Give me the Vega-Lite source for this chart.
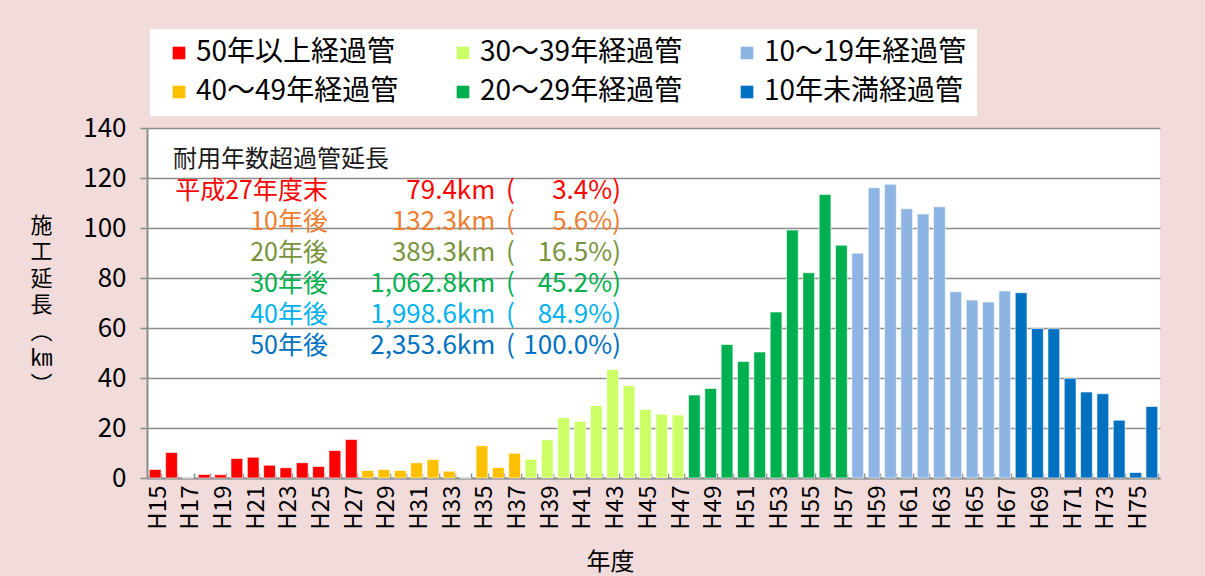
{
  "$schema": "https://vega.github.io/schema/vega-lite/v6.json",
  "autosize": {"type": "none"},
  "padding": {"left": 147, "top": 128, "right": 45, "bottom": 98},
  "width": 1013,
  "height": 350,
  "background": "#F2DCDB",
  "config": {"font": "Noto Sans CJK JP", "view": {"fill": "white", "stroke": null}},
  "datasets": {
    "pipes": [
      {"年度": "H15", "施工延長": 3.4, "経過年数": "50年以上経過管"},
      {"年度": "H16", "施工延長": 10.2, "経過年数": "50年以上経過管"},
      {"年度": "H17", "施工延長": 0.0, "経過年数": "50年以上経過管"},
      {"年度": "H18", "施工延長": 1.4, "経過年数": "50年以上経過管"},
      {"年度": "H19", "施工延長": 1.3, "経過年数": "50年以上経過管"},
      {"年度": "H20", "施工延長": 7.8, "経過年数": "50年以上経過管"},
      {"年度": "H21", "施工延長": 8.3, "経過年数": "50年以上経過管"},
      {"年度": "H22", "施工延長": 5.1, "経過年数": "50年以上経過管"},
      {"年度": "H23", "施工延長": 4.1, "経過年数": "50年以上経過管"},
      {"年度": "H24", "施工延長": 6.1, "経過年数": "50年以上経過管"},
      {"年度": "H25", "施工延長": 4.6, "経過年数": "50年以上経過管"},
      {"年度": "H26", "施工延長": 11.0, "経過年数": "50年以上経過管"},
      {"年度": "H27", "施工延長": 15.4, "経過年数": "50年以上経過管"},
      {"年度": "H28", "施工延長": 3.0, "経過年数": "40～49年経過管"},
      {"年度": "H29", "施工延長": 3.4, "経過年数": "40～49年経過管"},
      {"年度": "H30", "施工延長": 3.0, "経過年数": "40～49年経過管"},
      {"年度": "H31", "施工延長": 6.1, "経過年数": "40～49年経過管"},
      {"年度": "H32", "施工延長": 7.4, "経過年数": "40～49年経過管"},
      {"年度": "H33", "施工延長": 2.7, "経過年数": "40～49年経過管"},
      {"年度": "H34", "施工延長": 0.0, "経過年数": "40～49年経過管"},
      {"年度": "H35", "施工延長": 12.9, "経過年数": "40～49年経過管"},
      {"年度": "H36", "施工延長": 4.2, "経過年数": "40～49年経過管"},
      {"年度": "H37", "施工延長": 9.9, "経過年数": "40～49年経過管"},
      {"年度": "H38", "施工延長": 7.5, "経過年数": "30～39年経過管"},
      {"年度": "H39", "施工延長": 15.3, "経過年数": "30～39年経過管"},
      {"年度": "H40", "施工延長": 24.1, "経過年数": "30～39年経過管"},
      {"年度": "H41", "施工延長": 22.6, "経過年数": "30～39年経過管"},
      {"年度": "H42", "施工延長": 28.9, "経過年数": "30～39年経過管"},
      {"年度": "H43", "施工延長": 43.4, "経過年数": "30～39年経過管"},
      {"年度": "H44", "施工延長": 36.9, "経過年数": "30～39年経過管"},
      {"年度": "H45", "施工延長": 27.4, "経過年数": "30～39年経過管"},
      {"年度": "H46", "施工延長": 25.5, "経過年数": "30～39年経過管"},
      {"年度": "H47", "施工延長": 25.2, "経過年数": "30～39年経過管"},
      {"年度": "H48", "施工延長": 33.2, "経過年数": "20～29年経過管"},
      {"年度": "H49", "施工延長": 35.8, "経過年数": "20～29年経過管"},
      {"年度": "H50", "施工延長": 53.4, "経過年数": "20～29年経過管"},
      {"年度": "H51", "施工延長": 46.6, "経過年数": "20～29年経過管"},
      {"年度": "H52", "施工延長": 50.4, "経過年数": "20～29年経過管"},
      {"年度": "H53", "施工延長": 66.4, "経過年数": "20～29年経過管"},
      {"年度": "H54", "施工延長": 99.2, "経過年数": "20～29年経過管"},
      {"年度": "H55", "施工延長": 82.1, "経過年数": "20～29年経過管"},
      {"年度": "H56", "施工延長": 113.4, "経過年数": "20～29年経過管"},
      {"年度": "H57", "施工延長": 93.1, "経過年数": "20～29年経過管"},
      {"年度": "H58", "施工延長": 89.9, "経過年数": "10～19年経過管"},
      {"年度": "H59", "施工延長": 116.1, "経過年数": "10～19年経過管"},
      {"年度": "H60", "施工延長": 117.5, "経過年数": "10～19年経過管"},
      {"年度": "H61", "施工延長": 107.7, "経過年数": "10～19年経過管"},
      {"年度": "H62", "施工延長": 105.6, "経過年数": "10～19年経過管"},
      {"年度": "H63", "施工延長": 108.5, "経過年数": "10～19年経過管"},
      {"年度": "H64", "施工延長": 74.5, "経過年数": "10～19年経過管"},
      {"年度": "H65", "施工延長": 71.2, "経過年数": "10～19年経過管"},
      {"年度": "H66", "施工延長": 70.4, "経過年数": "10～19年経過管"},
      {"年度": "H67", "施工延長": 74.8, "経過年数": "10～19年経過管"},
      {"年度": "H68", "施工延長": 74.1, "経過年数": "10年未満経過管"},
      {"年度": "H69", "施工延長": 59.8, "経過年数": "10年未満経過管"},
      {"年度": "H70", "施工延長": 59.7, "経過年数": "10年未満経過管"},
      {"年度": "H71", "施工延長": 39.9, "経過年数": "10年未満経過管"},
      {"年度": "H72", "施工延長": 34.4, "経過年数": "10年未満経過管"},
      {"年度": "H73", "施工延長": 33.7, "経過年数": "10年未満経過管"},
      {"年度": "H74", "施工延長": 23.1, "経過年数": "10年未満経過管"},
      {"年度": "H75", "施工延長": 2.2, "経過年数": "10年未満経過管"},
      {"年度": "H76", "施工延長": 28.6, "経過年数": "10年未満経過管"}
    ],
    "note": [
      {"label": "平成27年度末", "km": "79.4km", "pct": "3.4%)"},
      {"label": "10年後", "km": "132.3km", "pct": "5.6%)"},
      {"label": "20年後", "km": "389.3km", "pct": "16.5%)"},
      {"label": "30年後", "km": "1,062.8km", "pct": "45.2%)"},
      {"label": "40年後", "km": "1,998.6km", "pct": "84.9%)"},
      {"label": "50年後", "km": "2,353.6km", "pct": "100.0%)"}
    ],
    "head": [
      {"label": "耐用年数超過管延長"}
    ]
  },
  "layer": [
    {
      "data": {"name": "pipes"},
      "mark": {"type": "bar", "stroke": "white", "strokeWidth": 1, "strokeOpacity": 0.6},
      "encoding": {
        "x": {
          "field": "年度", "type": "nominal",
          "scale": {
            "domain": ["H15","H16","H17","H18","H19","H20","H21","H22","H23","H24","H25","H26","H27","H28","H29","H30","H31","H32","H33","H34","H35","H36","H37","H38","H39","H40","H41","H42","H43","H44","H45","H46","H47","H48","H49","H50","H51","H52","H53","H54","H55","H56","H57","H58","H59","H60","H61","H62","H63","H64","H65","H66","H67","H68","H69","H70","H71","H72","H73","H74","H75","H76"],
            "paddingInner": 0.28, "paddingOuter": 0.14
          },
          "axis": {
            "title": "年度",
            "labelAngle": -90,
            "labelFontSize": 24,
            "labelColor": "black",
            "labelExpr": "parseInt(substring(datum.value, 1)) % 2 == 1 ? datum.value : ''",
            "labelOverlap": false,
            "labelPadding": 12,
            "labelOffset": 3,
            "tickBand": "extent",
            "tickSize": -5,
            "tickColor": "#8C8C8C",
            "tickWidth": 1.5,
            "domainColor": "#8C8C8C",
            "domainWidth": 2,
            "grid": false,
            "titleFontSize": 24,
            "titleFontWeight": "normal",
            "titleColor": "black",
            "titleX": 463,
            "titleY": 72,
            "titleAlign": "center",
            "titleBaseline": "top"
          }
        },
        "y": {
          "field": "施工延長", "type": "quantitative",
          "scale": {"domain": [0, 140]},
          "axis": {
            "title": ["施", "工", "延", "長", "︵", "㎞", "︶"],
            "titleAngle": 0,
            "titleX": -106,
            "titleY": 97,
            "titleAlign": "center",
            "titleBaseline": "middle",
            "titleLineHeight": 26.5,
            "titleFontSize": 22,
            "titleFontWeight": "normal",
            "titleColor": "black",
            "values": [0, 20, 40, 60, 80, 100, 120, 140],
            "grid": true,
            "gridColor": "#8C8C8C",
            "gridWidth": 1.5,
            "domainColor": "#8C8C8C",
            "domainWidth": 2,
            "tickColor": "#8C8C8C",
            "tickWidth": 1.5,
            "tickSize": 7,
            "labelFontSize": 26,
            "labelColor": "black",
            "labelPadding": 14
          }
        },
        "color": {
          "field": "経過年数", "type": "nominal",
          "scale": {
            "domain": ["50年以上経過管", "30～39年経過管", "10～19年経過管", "40～49年経過管", "20～29年経過管", "10年未満経過管"],
            "range": ["#FF0000", "#CCFF66", "#8DB4E2", "#FFC000", "#00B050", "#0070C0"]
          },
          "legend": {
            "orient": "none",
            "legendX": 3,
            "legendY": -99,
            "direction": "horizontal",
            "columns": 3,
            "title": null,
            "fillColor": "white",
            "padding": 10,
            "symbolType": "square",
            "symbolSize": 160,
            "symbolStrokeWidth": 0,
            "symbolOffset": 5,
            "labelFontSize": 28,
            "labelColor": "black",
            "labelOffset": 3,
            "labelLimit": 400,
            "columnPadding": 45,
            "rowPadding": 11,
            "gridAlign": "all"
          }
        }
      }
    },
    {
      "data": {"name": "note"},
      "layer": [
        {
          "data": {"name": "head"},
          "mark": {"type": "text", "align": "left", "baseline": "middle", "fontSize": 24, "dx": 1.5},
          "encoding": {
            "x": {"datum": "H16", "type": "nominal"},
            "y": {"field": "label", "type": "nominal", "scale": {"type": "point", "domain": ["耐用年数超過管延長", "平成27年度末", "10年後", "20年後", "30年後", "40年後", "50年後", " ", "  ", "   ", "    "], "padding": 0.65, "align": 0.794}, "axis": null},
            "text": {"field": "label"},
            "color": {"field": "label", "type": "nominal", "scale": {"domain": ["耐用年数超過管延長", "平成27年度末", "10年後", "20年後", "30年後", "40年後", "50年後"], "range": ["#1A1A1A", "#FF0000", "#ED7D31", "#77933C", "#00B050", "#00B0F0", "#0070C0"]}, "legend": null}
          }
        },
        {
          "mark": {"type": "text", "align": "right", "baseline": "middle", "fontSize": 25, "dx": -7},
          "encoding": {
            "x": {"datum": "H26", "type": "nominal"},
            "y": {"field": "label", "type": "nominal", "scale": {"type": "point", "domain": ["耐用年数超過管延長", "平成27年度末", "10年後", "20年後", "30年後", "40年後", "50年後", " ", "  ", "   ", "    "], "padding": 0.65, "align": 0.794}, "axis": null},
            "text": {"field": "label"},
            "color": {"field": "label", "type": "nominal", "legend": null}
          }
        },
        {
          "mark": {"type": "text", "align": "right", "baseline": "middle", "fontSize": 26, "dx": -3},
          "encoding": {
            "x": {"datum": "H36", "type": "nominal"},
            "y": {"field": "label", "type": "nominal", "scale": {"type": "point", "domain": ["耐用年数超過管延長", "平成27年度末", "10年後", "20年後", "30年後", "40年後", "50年後", " ", "  ", "   ", "    "], "padding": 0.65, "align": 0.794}, "axis": null},
            "text": {"field": "km"},
            "color": {"field": "label", "type": "nominal", "legend": null}
          }
        },
        {
          "mark": {"type": "text", "align": "left", "baseline": "middle", "fontSize": 26, "dx": -8.6, "text": "("},
          "encoding": {
            "x": {"datum": "H37", "type": "nominal"},
            "y": {"field": "label", "type": "nominal", "scale": {"type": "point", "domain": ["耐用年数超過管延長", "平成27年度末", "10年後", "20年後", "30年後", "40年後", "50年後", " ", "  ", "   ", "    "], "padding": 0.65, "align": 0.794}, "axis": null},
            "color": {"field": "label", "type": "nominal", "legend": null}
          }
        },
        {
          "mark": {"type": "text", "align": "right", "baseline": "middle", "fontSize": 26, "dx": 8.3},
          "encoding": {
            "x": {"datum": "H43", "type": "nominal"},
            "y": {"field": "label", "type": "nominal", "scale": {"type": "point", "domain": ["耐用年数超過管延長", "平成27年度末", "10年後", "20年後", "30年後", "40年後", "50年後", " ", "  ", "   ", "    "], "padding": 0.65, "align": 0.794}, "axis": null},
            "text": {"field": "pct"},
            "color": {"field": "label", "type": "nominal", "legend": null}
          }
        }
      ]
    }
  ],
  "resolve": {"scale": {"y": "independent", "color": "independent"}}
}
